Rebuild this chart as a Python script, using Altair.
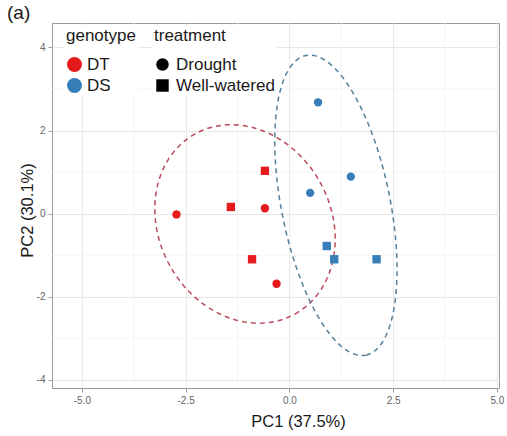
import altair as alt
import pandas as pd
import numpy as np

# ---- data ----
genotype = ["DT"] * 6 + ["DS"] * 6
treatment = ["Drought", "Well-watered", "Well-watered", "Drought", "Well-watered", "Drought",
             "Drought", "Drought", "Drought", "Well-watered", "Well-watered", "Well-watered"]
pc1 = [-2.72, -0.59, -1.41, -0.59, -0.90, -0.31, 0.69, 1.48, 0.50, 0.90, 1.08, 2.10]
pc2 = [-0.02, 1.03, 0.16, 0.13, -1.10, -1.69, 2.68, 0.89, 0.50, -0.78, -1.10, -1.10]

# confidence ellipses (centre, semi-axes, rotation in degrees)
ell_group = ["DT", "DS"]
ell_cx = [-1.07, 1.12]
ell_cy = [-0.25, 0.20]
ell_a = [2.48, 3.68]
ell_b = [2.07, 1.31]
ell_angle = [-61.0, -78.7]
ell_color = ["#b94a58", "#557f99"]

x_ticks = [-5.0, -2.5, 0.0, 2.5, 5.0]
y_ticks = [-4, -2, 0, 2, 4]
x_minor = [-3.75, -1.25, 1.25, 3.75]
y_minor = [-3, -1, 1, 3]

panel_tag = ["(a)"]

X_DOM = [-5.72, 5.05]
Y_DOM = [-4.2, 4.59]

pts = pd.DataFrame({"genotype": genotype, "treatment": treatment, "PC1": pc1, "PC2": pc2})

rows = []
t = np.linspace(0, 2 * np.pi, 181)
for g, cx, cy, a, b, ang in zip(ell_group, ell_cx, ell_cy, ell_a, ell_b, ell_angle):
    th = np.deg2rad(ang)
    xs = cx + a * np.cos(t) * np.cos(th) - b * np.sin(t) * np.sin(th)
    ys = cy + a * np.cos(t) * np.sin(th) + b * np.sin(t) * np.cos(th)
    for i, (xx, yy) in enumerate(zip(xs, ys)):
        rows.append({"g": g, "i": i, "PC1": xx, "PC2": yy})
ell = pd.DataFrame(rows)

xscale = alt.Scale(domain=X_DOM, nice=False, zero=False)
yscale = alt.Scale(domain=Y_DOM, nice=False, zero=False)

xaxis = alt.Axis(values=x_ticks, title="PC1 (37.5%)",
                 labelExpr="datum.value < 0 ? '-' + format(-datum.value, '.1f') : format(datum.value, '.1f')",
                 titleX=246, titleY=33, titleBaseline="middle", titleAnchor="middle")
yaxis = alt.Axis(values=y_ticks, title="PC2 (30.1%)",
                 labelExpr="datum.value < 0 ? '-' + format(-datum.value, 'd') : format(datum.value, 'd')",
                 titleX=-25, titleY=187, titleBaseline="middle", titleAnchor="middle")

minor_x = alt.Chart(pd.DataFrame({"v": x_minor})).mark_rule(color="#f2f2f2", strokeWidth=0.7).encode(
    x=alt.X("v:Q", scale=xscale, axis=xaxis))
minor_y = alt.Chart(pd.DataFrame({"v": y_minor})).mark_rule(color="#f2f2f2", strokeWidth=0.7).encode(
    y=alt.Y("v:Q", scale=yscale, axis=yaxis))

ellipse_layers = []
for g, col in zip(ell_group, ell_color):
    ellipse_layers.append(
        alt.Chart(ell).transform_filter(alt.datum.g == g).mark_line(
            color=col, strokeDash=[5, 4], strokeWidth=1.5
        ).encode(
            x=alt.X("PC1:Q", scale=xscale, axis=xaxis),
            y=alt.Y("PC2:Q", scale=yscale, axis=yaxis),
            order="i:Q",
        )
    )

LEG_FS = 17
points = alt.Chart(pts).mark_point(filled=True, size=70, opacity=1).encode(
    x=alt.X("PC1:Q", scale=xscale, axis=xaxis),
    y=alt.Y("PC2:Q", scale=yscale, axis=yaxis),
    color=alt.Color("genotype:N",
                    scale=alt.Scale(domain=["DT", "DS"], range=["#e41a1c", "#377eb8"]),
                    legend=alt.Legend(title="genotype", orient="none", legendX=12, legendY=3,
                                      symbolType="circle", symbolSize=225, symbolStrokeWidth=0,
                                      labelFontSize=LEG_FS, titleFontSize=LEG_FS, titleFontWeight="normal",
                                      titlePadding=11, rowPadding=3, labelOffset=4,
                                      fillColor="white", padding=2, labelColor="#1a1a1a",
                                      titleColor="#1a1a1a")),
    shape=alt.Shape("treatment:N",
                    scale=alt.Scale(domain=["Drought", "Well-watered"], range=["circle", "square"]),
                    legend=alt.Legend(title="treatment", orient="none", legendX=100, legendY=3,
                                      symbolSize=155, symbolFillColor="black", symbolStrokeColor="black",
                                      symbolStrokeWidth=0,
                                      labelFontSize=LEG_FS, titleFontSize=LEG_FS, titleFontWeight="normal",
                                      titlePadding=11, rowPadding=3, labelOffset=5,
                                      fillColor="white", padding=2, labelColor="#1a1a1a",
                                      titleColor="#1a1a1a")),
)

tag = alt.Chart(pd.DataFrame({"t": panel_tag})).mark_text(
    fontSize=19, align="left", baseline="middle", color="#1a1a1a"
).encode(text="t:N", x=alt.value(-45), y=alt.value(-10))

chart = alt.layer(minor_x, minor_y, *ellipse_layers, points, tag).properties(
    width=447, height=365,
    autosize=alt.AutoSizeParams(type="none"),
    padding={"left": 52, "top": 23, "right": 8, "bottom": 48},
).resolve_scale(color="independent").configure(
    font="Liberation Sans"
).configure_view(
    stroke="#9a9a9a", strokeWidth=1
).configure_axis(
    domain=False, grid=True, gridColor="#e8e8e8", gridWidth=1,
    tickColor="#9a9a9a", tickSize=4, labelColor="#666666", labelFontSize=10,
    labelPadding=3, titleFontSize=16.5, titleFontWeight="normal", titleColor="#1a1a1a"
)

chart.save("out.html", embed_options={"renderer": "svg", "actions": False})
